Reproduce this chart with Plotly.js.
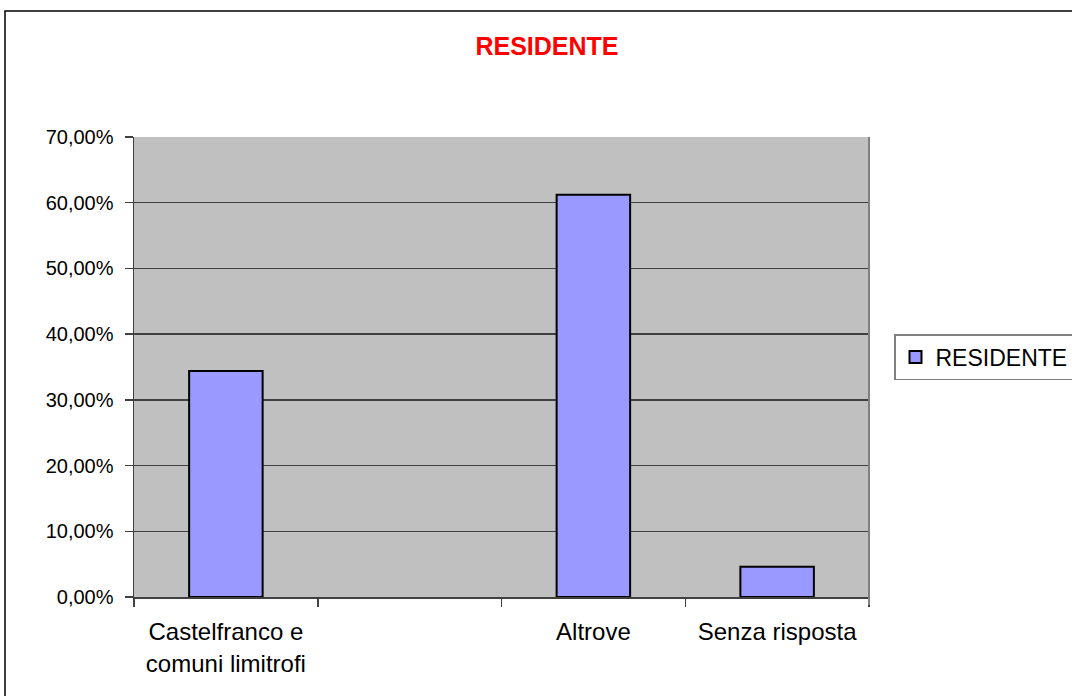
<!DOCTYPE html>
<html>
<head>
<meta charset="utf-8">
<script src="https://cdn.plot.ly/plotly-3.0.1.min.js"></script>
<style>
  html, body { margin: 0; padding: 0; background: #fff; }
  #chart { width: 1072px; height: 696px; }
</style>
</head>
<body>
<div id="chart"></div>
<script>
// Dati del grafico
const categorie = ['Castelfranco e<br>comuni limitrofi', '\u00a0', 'Altrove', 'Senza risposta'];
const valori = [0.344, null, 0.612, 0.046];
const nomeSerie = 'RESIDENTE';
const titolo = 'RESIDENTE';

const font = 'Liberation Sans, Arial, sans-serif';

// Posizione dell'area del grafico in pixel
const L = 134, R = 869, T = 137, B = 597, W = 1072, H = 696;
const pw = R - L, ph = B - T;

const data = [{
  type: 'bar',
  x: categorie,
  y: valori,
  name: nomeSerie,
  width: 0.4,
  marker: { color: '#9999ff', line: { color: '#000', width: 2 } },
  showlegend: true,
  hoverinfo: 'skip'
}];

const layout = {
  width: W, height: H,
  margin: { l: L, r: W - R, t: T, b: H - B, pad: 0, autoexpand: false },
  paper_bgcolor: '#fff',
  plot_bgcolor: '#c0c0c0',
  separators: ',.',
  font: { family: font, size: 20, color: '#000' },
  title: {
    text: '<b>' + titolo + '</b>',
    font: { family: font, size: 25, color: '#ff0000' },
    x: 547 / W, xanchor: 'center',
    y: 1 - 46 / H, yanchor: 'middle'
  },
  xaxis: {
    type: 'category',
    tickson: 'boundaries',
    ticks: 'outside', ticklen: 8, tickcolor: '#404040', tickwidth: 1.5,
    showline: true, linecolor: '#404040', linewidth: 1.5,
    showgrid: false, zeroline: false,
    tickfont: { family: font, size: 24, color: '#000' },
    ticklabelstandoff: 13,
    automargin: false,
    fixedrange: true
  },
  yaxis: {
    range: [0, 0.7], dtick: 0.1, tick0: 0,
    tickformat: '.2%',
    ticks: 'outside', ticklen: 8, tickcolor: '#404040', tickwidth: 1.5,
    showline: true, linecolor: '#404040', linewidth: 1.5,
    showgrid: true, gridcolor: '#404040', gridwidth: 1.5,
    zeroline: false,
    tickfont: { family: font, size: 20, color: '#000' },
    ticklabelstandoff: 7,
    automargin: false,
    fixedrange: true
  },
  showlegend: true,
  legend: {
    x: (894 - L) / pw, xanchor: 'left',
    y: (B - 334) / ph, yanchor: 'top',
    bgcolor: '#fff', bordercolor: '#808080', borderwidth: 1.5,
    font: { family: font, size: 23, color: '#000' },
    itemwidth: 30
  },
  shapes: [
    // bordo esterno del grafico
    { type: 'rect', xref: 'paper', yref: 'paper',
      x0: (5 - L) / pw, x1: (W + 20 - L) / pw,
      y0: (B - (H + 20)) / ph, y1: (B - 11) / ph,
      line: { color: '#000', width: 1.5 }, layer: 'below' },
    // bordo destro dell'area del grafico
    { type: 'line', xref: 'paper', yref: 'paper',
      x0: 1, x1: 1, y0: -8 / ph, y1: 1,
      line: { color: '#808080', width: 2 }, layer: 'above' }
  ]
};

Plotly.newPlot('chart', data, layout, { displayModeBar: false, staticPlot: true });
</script>
</body>
</html>
